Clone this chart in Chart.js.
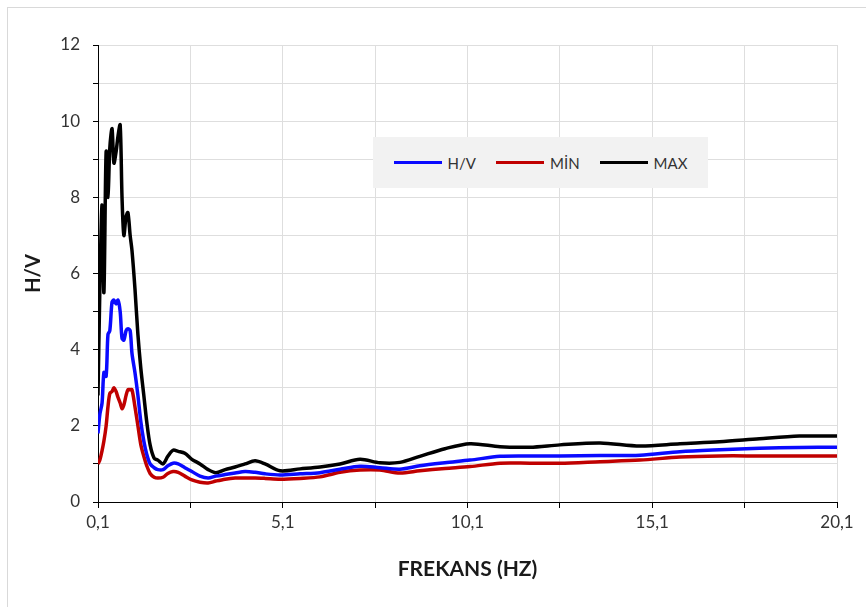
<!DOCTYPE html>
<html>
<head>
<meta charset="utf-8">
<script src="https://cdn.jsdelivr.net/npm/chart.js@4"></script>
<style>
  html, body { margin: 0; padding: 0; background: #fff; }
  #wrap { position: relative; width: 866px; height: 607px; overflow: hidden; }
  #frame { position: absolute; left: 7px; top: 7px; width: 900px; height: 700px; border: 1px solid #d9d9d9; }
  #grafik { position: absolute; left: 0; top: 0; }
  #legend { position: absolute; left: 373px; top: 137px; width: 335px; height: 51px; background: #f2f2f2;
            display: flex; align-items: center; justify-content: center; gap: 20px;
            font-family: Lato, "Liberation Sans", sans-serif; font-size: 15px; color: #333; }
  #legend .item { display: flex; align-items: center; gap: 6px; }
  #legend .line { width: 48px; height: 3px; }
</style>
</head>
<body>
<div id="wrap">
  <div id="frame"></div>
  <canvas id="grafik" width="866" height="607"></canvas>
  <div id="legend"></div>
</div>
<script>
// frekans (Hz)
const frekans = [0.10, 0.15, 0.21, 0.26, 0.32, 0.37, 0.42, 0.48, 0.53, 0.59, 0.64, 0.70, 0.75, 0.80, 0.86, 0.91, 0.97, 1.02,
  1.10, 1.18, 1.26, 1.34, 1.42, 1.51, 1.62, 1.72, 1.86, 1.99, 2.13, 2.27, 2.45, 2.64, 2.86, 3.08, 3.29, 3.54, 3.81, 4.08,
  4.35, 4.62, 5.03, 5.57, 6.11, 6.65, 7.19, 7.73, 8.27, 8.81, 9.49, 10.17, 10.98, 11.79, 12.60, 13.69, 14.77, 15.85,
  16.92, 18.00, 19.08, 20.10];

const hv = [1.8, 2.3, 2.6, 3.4, 3.3, 4.4, 4.5, 5.25, 5.3, 5.2, 5.3, 5.0, 4.3, 4.25, 4.5, 4.55, 4.5, 3.9,
  3.4, 2.8, 2.1, 1.6, 1.25, 1.0, 0.9, 0.85, 0.85, 0.95, 1.02, 1.0, 0.9, 0.8, 0.68, 0.63, 0.68, 0.72, 0.76, 0.8,
  0.78, 0.74, 0.71, 0.74, 0.77, 0.86, 0.94, 0.9, 0.86, 0.95, 1.03, 1.1, 1.2, 1.21, 1.21, 1.22, 1.23, 1.32,
  1.37, 1.41, 1.43, 1.44];

const minDeger = [1.0, 1.1, 1.35, 1.6, 2.0, 2.5, 2.85, 2.9, 3.0, 2.9, 2.75, 2.6, 2.45, 2.55, 2.8, 2.95, 2.95, 2.95,
  2.5, 2.0, 1.5, 1.2, 0.95, 0.75, 0.65, 0.63, 0.65, 0.75, 0.8, 0.78, 0.68, 0.58, 0.52, 0.5, 0.55, 0.6, 0.63, 0.63,
  0.63, 0.62, 0.6, 0.62, 0.66, 0.78, 0.84, 0.84, 0.76, 0.82, 0.88, 0.93, 1.02, 1.02, 1.02, 1.06, 1.1, 1.18,
  1.21, 1.21, 1.21, 1.21];

const maxDeger = [2.8, 5.6, 7.8, 5.5, 9.2, 8.0, 9.3, 9.8, 8.9, 9.2, 9.6, 9.9, 8.0, 7.0, 7.5, 7.6, 7.0, 6.6,
  5.6, 4.4, 3.5, 2.8, 2.1, 1.5, 1.15, 1.1, 1.0, 1.2, 1.36, 1.33, 1.28, 1.12, 1.0, 0.85, 0.77, 0.85, 0.92, 1.0,
  1.08, 1.0, 0.82, 0.87, 0.92, 1.0, 1.12, 1.03, 1.04, 1.2, 1.4, 1.53, 1.45, 1.44, 1.5, 1.55, 1.47, 1.53,
  1.58, 1.66, 1.73, 1.73];

const xTikler = [0.1, 2.6, 5.1, 7.6, 10.1, 12.6, 15.1, 17.6, 20.1];
const seriAdlari = ['H/V', 'MİN', 'MAX'];
const renkler = ['#0a0aff', '#c00000', '#000000'];

const fontAdi = 'Lato, "Liberation Sans", sans-serif';
const noktala = arr => arr.map((v, i) => ({ x: frekans[i], y: v }));

const datasets = [hv, minDeger, maxDeger].map((arr, i) => ({
  label: seriAdlari[i],
  data: noktala(arr),
  borderColor: renkler[i],
  backgroundColor: renkler[i],
  borderWidth: 3.5,
  pointRadius: 0,
  tension: 0.3,
  fill: false
}));

const ctx = document.getElementById('grafik');
const grafik = new Chart(ctx, {
  type: 'line',
  data: { datasets: datasets },
  options: {
    responsive: false,
    animation: false,
    layout: { padding: { left: 14, top: 45, right: 29, bottom: 20 } },
    plugins: { legend: { display: false }, tooltip: { enabled: false } },
    scales: {
      x: {
        type: 'linear',
        min: 0.1,
        max: 20.1,
        afterBuildTicks: scale => { scale.ticks = xTikler.map(v => ({ value: v })); },
        afterFit: scale => { scale.height = 85; },
        ticks: {
          padding: 4,
          color: '#333',
          font: { family: fontAdi, size: 17 },
          callback: (v, i) => (i % 2 === 0 ? v.toFixed(1).replace('.', ',') : '')
        },
        grid: { color: '#dedede', tickColor: '#000', tickLength: 6 },
        border: { color: '#000', width: 1 },
        title: {
          display: true,
          text: 'FREKANS (HZ)',
          color: '#1a1a1a',
          font: { family: fontAdi, size: 21, weight: 'bold' },
          padding: { top: 0, bottom: 5 }
        }
      },
      y: {
        min: 0,
        max: 12,
        afterFit: scale => { scale.width = 84; },
        ticks: {
          stepSize: 1,
          padding: 13,
          color: '#333',
          font: { family: fontAdi, size: 17 },
          callback: v => (v % 2 === 0 ? v : '')
        },
        grid: { color: '#dedede', tickColor: '#000', tickLength: 5 },
        border: { color: '#000', width: 1 },
        title: {
          display: true,
          text: 'H/V',
          color: '#1a1a1a',
          font: { family: fontAdi, size: 20, weight: 'bold' },
          padding: { top: 8, bottom: 0 }
        }
      }
    }
  }
});

// lejant
const lejant = document.getElementById('legend');
grafik.data.datasets.forEach(ds => {
  const item = document.createElement('div');
  item.className = 'item';
  item.innerHTML = `<span class="line" style="background:${ds.borderColor}"></span><span>${ds.label}</span>`;
  lejant.appendChild(item);
});
</script>
</body>
</html>
